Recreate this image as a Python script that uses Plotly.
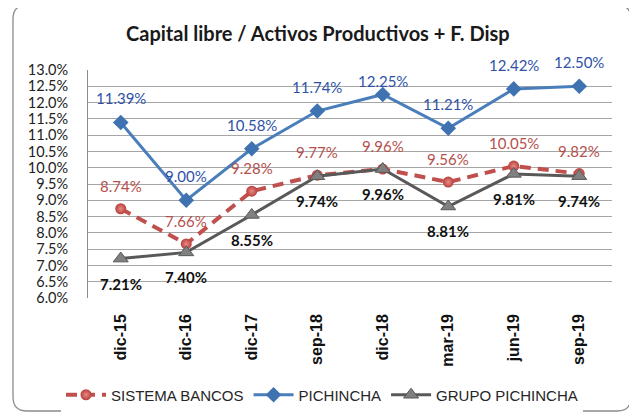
import plotly.graph_objects as go

categories = ["dic-15", "dic-16", "dic-17", "sep-18", "dic-18", "mar-19", "jun-19", "sep-19"]
sistema_bancos = [8.74, 7.66, 9.28, 9.77, 9.96, 9.56, 10.05, 9.82]
pichincha = [11.39, 9.00, 10.58, 11.74, 12.25, 11.21, 12.42, 12.50]
grupo_pichincha = [7.21, 7.40, 8.55, 9.74, 9.96, 8.81, 9.81, 9.74]
title_text = "Capital libre / Activos Productivos + F. Disp"

# The page body has an 8px margin; work in screen pixels and convert.
OFF = 8
W, H = 637 - OFF, 418 - OFF
# screen-pixel plot box
SX0, SX1, SY0, SY1 = 88, 612, 70, 298
L, T = SX0 - OFF, SY0 - OFF
R, B = W - (SX1 - OFF), H - (SY1 - OFF)
PW, PH = SX1 - SX0, SY1 - SY0


def px_x(px):
    return (px - SX0) / PW


def px_y(py):
    return (SY1 - py) / PH


fig = go.Figure()

fig.add_trace(go.Scatter(
    x=categories, y=sistema_bancos, name="SISTEMA BANCOS", mode="lines+markers",
    line=dict(color="#C0504D", width=4, dash="11px,7px"),
    marker=dict(symbol="circle", size=11, color="#B8403C",
                gradient=dict(type="radial", color="#E88A86"),
                line=dict(width=0)),
))
fig.add_trace(go.Scatter(
    x=categories, y=pichincha, name="PICHINCHA", mode="lines+markers",
    line=dict(color="#4A7EBB", width=3),
    marker=dict(symbol="diamond", size=12, color="#3F72B0", line=dict(width=0)),
))
fig.add_trace(go.Scatter(
    x=categories, y=grupo_pichincha, name="GRUPO PICHINCHA", mode="lines+markers",
    line=dict(color="#595959", width=3),
    marker=dict(symbol="triangle-up", size=13, color="#808080",
                line=dict(color="#595959", width=1)),
))

annotations = []
label_font = "Lato, 'Open Sans', sans-serif"
special_shift = {("PICHINCHA", "dic-18"): 13}
for name, vals, color, shift, bold in [
    ("SISTEMA BANCOS", sistema_bancos, "#B4504C", 23, False),
    ("PICHINCHA", pichincha, "#2F52A8", 24, False),
    ("GRUPO PICHINCHA", grupo_pichincha, "#111111", -25, True),
]:
    for c, v in zip(categories, vals):
        s = special_shift.get((name, c), shift)
        txt = f"{v:.2f}%"
        if bold:
            txt = f"<b>{txt}</b>"
        annotations.append(dict(
            x=c, y=v, xref="x", yref="y", text=txt, showarrow=False,
            yshift=s, font=dict(family=label_font, size=15, color=color),
        ))

# title
annotations.append(dict(
    x=px_x(318), y=px_y(33), xref="paper", yref="paper", text=f"<b>{title_text}</b>",
    showarrow=False, xanchor="center", yanchor="middle",
    font=dict(family=label_font, size=20, color="#1A1A1A"),
))

# rounded outer border (screen pixels)
x0, x1, y0, y1, r = 13, 631, 5, 411, 14
def P(px, py):
    return f"{px_x(px):.5f},{px_y(py):.5f}"
path = (f"M {P(x0 + r, y0)} L {P(x1 - r, y0)} Q {P(x1, y0)} {P(x1, y0 + r)} "
        f"L {P(x1, y1 - r)} Q {P(x1, y1)} {P(x1 - r, y1)} "
        f"L {P(x0 + r, y1)} Q {P(x0, y1)} {P(x0, y1 - r)} "
        f"L {P(x0, y0 + r)} Q {P(x0, y0)} {P(x0 + r, y0)} Z")

fig.update_layout(
    width=W, height=H,
    margin=dict(l=L, r=R, t=T, b=B, pad=0, autoexpand=False),
    paper_bgcolor="white", plot_bgcolor="white",
    showlegend=True,
    legend=dict(orientation="h", x=px_x(322), xanchor="center", y=px_y(395), yanchor="middle",
                font=dict(family="'Liberation Sans', Arial, sans-serif", size=15, color="#262626"),
                itemwidth=40, tracegroupgap=0),
    annotations=annotations,
    shapes=[dict(type="path", path=path, xref="paper", yref="paper",
                 line=dict(color="#8C8C8C", width=1.3), layer="below")],
)

fig.update_xaxes(
    type="category", range=[-0.5, len(categories) - 0.5], automargin=False,
    tickangle=-90, showgrid=False, showline=False, zeroline=False,
    tickfont=dict(family="'Liberation Sans', Arial, sans-serif", size=16, color="#111111", weight="bold"),
    ticks="", ticklabelstandoff=12,
)
fig.update_yaxes(
    range=[6, 13], dtick=0.5, tick0=6, tickformat=".1f", ticksuffix="%", automargin=False,
    showgrid=True, gridcolor="#A6A6A6", gridwidth=1,
    showline=True, linecolor="#8C8C8C", linewidth=1, zeroline=False,
    tickfont=dict(family=label_font, size=14.5, color="#222222"),
    ticks="", ticklabelstandoff=16,
)

fig.write_html("out.html")
